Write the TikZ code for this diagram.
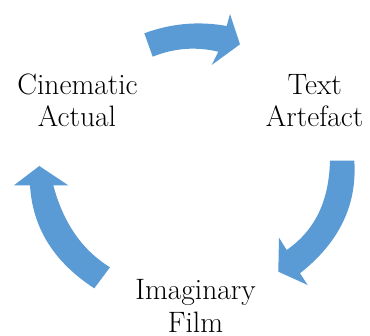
\documentclass[tikz,border=0pt]{standalone}
\definecolor{arrowblue}{HTML}{5B9BD5}
\tikzset{
  cyclearrow/.style={fill=arrowblue, draw=none},
  label/.style={font=\fontsize{29.5}{32}\selectfont, align=center, text=black, inner sep=0pt, anchor=base}
}
\begin{document}
\begin{tikzpicture}[x=1pt,y=-1pt]
\useasboundingbox (0,0) rectangle (370,336);
% top arrow
\fill[cyclearrow] (144.3,33.3) -- (152.7,56.7)
  .. controls (173.9,48.1) and (195.8,46.4) .. (218.3,51.7)
  -- (211.7,65) -- (240,44.3) -- (230,14) -- (226.7,26)
  .. controls (198.6,20.9) and (171.1,23.4) .. (144.3,33.3) -- cycle;
% right arrow
\fill[cyclearrow] (330,160.7) -- (354.3,160.7)
  .. controls (357.3,204.9) and (339.2,242.4) .. (300,273.3)
  -- (307.7,285) -- (278.3,271.7) -- (279,237.7) -- (286.7,250)
  .. controls (316.6,229.1) and (328.9,199.3) .. (330,160.7) -- cycle;
% left arrow
\fill[cyclearrow] (39.3,166) -- (14,185.3) -- (30,185.3)
  .. controls (32.5,227.9) and (54,262.2) .. (94.3,288.3)
  -- (110,267.3)
  .. controls (82.2,250.2) and (63.3,222.9) .. (53.3,185.3)
  -- (68.3,185.3) -- cycle;
% labels
\node[label] (cin1) at (77.5,95) {Cinematic};
\node[label] (cin2) at (77,126.7) {Actual};
\node[label] (txt1) at (314.7,95) {Text};
\node[label] (txt2) at (314.7,126.7) {Artefact};
\node[label] (img1) at (195.5,300) {Imaginary};
\node[label] (img2) at (195.5,332.5) {Film};
\end{tikzpicture}
\end{document}
